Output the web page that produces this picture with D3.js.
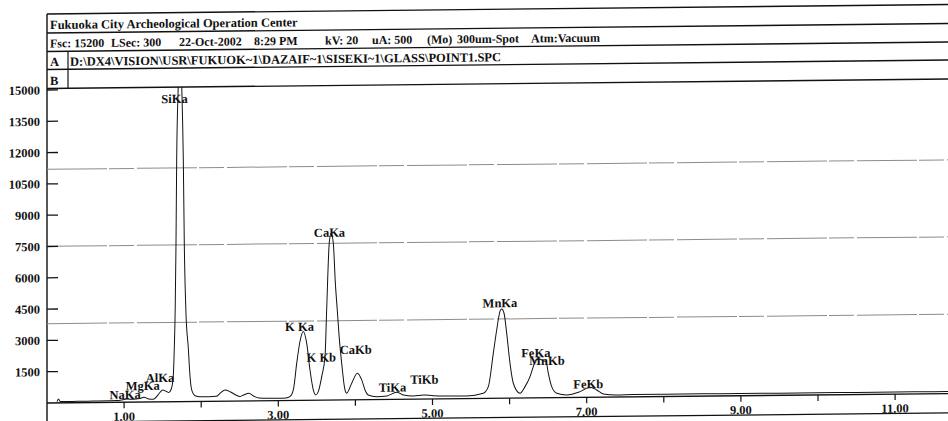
<!DOCTYPE html>
<html>
<head>
<meta charset="utf-8">
<script src="https://cdn.jsdelivr.net/npm/d3@7"></script>
<style>
  body { margin: 0; background: #fff; }
  svg text { font-family: "Liberation Serif", "Times New Roman", serif; font-weight: bold; fill: #111; }
</style>
</head>
<body>
<svg width="948" height="421"></svg>
<script>
// spectrum, keV vs counts
var energy = [0.13, 0.15, 0.17, 0.25, 0.40, 0.60, 0.80, 0.90, 1.00, 1.04, 1.12, 1.20, 1.26, 1.32, 1.38,
  1.44, 1.50, 1.55, 1.58, 1.608, 1.634, 1.651, 1.663, 1.673, 1.682, 1.703, 1.725, 1.747, 1.768, 1.781,
  1.803, 1.833, 1.855, 1.877, 1.92, 1.984, 2.10, 2.20, 2.25, 2.31, 2.38, 2.45, 2.50, 2.55, 2.62,
  2.68, 2.75, 2.90, 3.00, 3.10, 3.15, 3.195, 3.239, 3.281, 3.324, 3.368, 3.411, 3.454, 3.485, 3.519,
  3.563, 3.606, 3.628, 3.661, 3.685, 3.713, 3.74, 3.765, 3.79, 3.822, 3.865, 3.887, 3.952, 4.025, 4.082,
  4.125, 4.167, 4.276, 4.406, 4.536, 4.621, 4.751, 4.881, 5.01, 5.227, 5.444, 5.659, 5.724, 5.789, 5.833,
  5.875, 5.897, 5.927, 5.962, 6.005, 6.048, 6.135, 6.20, 6.265, 6.307, 6.342, 6.394, 6.437, 6.472, 6.502,
  6.546, 6.611, 6.741, 6.913, 7.043, 7.13, 7.215, 7.389, 7.6, 8.0, 8.5, 9.0, 9.5, 10.0, 10.5,
  11.0, 11.5, 12.0];
var counts = [60, 190, 70, 65, 65, 70, 75, 80, 130, 150, 135, 170, 225, 140, 125,
  330, 567, 490, 443, 570, 1040, 2550, 4500, 7500, 11600, 15200, 17500, 15200, 11600, 7500,
  4200, 2550, 1200, 552, 277, 226, 222, 240, 394, 535, 437, 290, 210, 286, 365,
  232, 134, 115, 110, 120, 180, 502, 1784, 2820, 3300, 2740, 1455, 492, 250, 408,
  1127, 2087, 4400, 7536, 8000, 7530, 5600, 4300, 3000, 1761, 476, 320, 795, 1273, 948,
  466, 224, 138, 167, 340, 207, 154, 197, 158, 135, 127, 248, 563, 2166, 3285,
  4163, 4277, 4084, 3121, 1677, 714, 230, 545, 1023, 1502, 1823, 1854, 1771, 1738, 1177,
  531, 211, 125, 277, 483, 350, 154, 100, 110, 115, 110, 110, 105, 105, 100,
  100, 100, 100];

// peak labels: name, energy of label centre, count level of label baseline
var peakNames  = ["NaKa", "MgKa", "AlKa", "SiKa", "K Ka", "K Kb", "CaKa", "CaKb", "TiKa", "TiKb", "MnKa", "FeKa", "MnKb", "FeKb"];
var peakEnergy = [1.012, 1.241, 1.466, 1.654, 3.275, 3.558, 3.664, 4.005, 4.481, 4.894, 5.875, 6.340, 6.485, 7.021];
var peakLevel  = [154, 576, 950, 14312, 3328, 1843, 7825, 2198, 370, 734, 4363, 1949, 1574, 432];

var yTicks = [1500, 3000, 4500, 6000, 7500, 9000, 10500, 12000, 13500, 15000];
var xTicks = [1, 2, 3, 4, 5, 6, 7, 8, 9, 10, 11];
var xLabels = [1, 3, 5, 7, 9, 11];
// faint gray lines across the scan
var scanLines = [11200, 7510, 3800];

var headerRow1 = "Fukuoka City Archeological Operation Center";
var headerRow2 = ["Fsc: 15200", "LSec: 300", "22-Oct-2002", "8:29 PM", "kV: 20", "uA: 500", "(Mo)", "300um-Spot", "Atm:Vacuum"];
var headerRow2X = [50, 111, 179, 254, 325, 372, 427, 457, 531];
var headerPath = "D:\\DX4\\VISION\\USR\\FUKUOK~1\\DAZAIF~1\\SISEKI~1\\GLASS\\POINT1.SPC";

var svg = d3.select("svg"),
    x0 = 47, yBase = 403, plotTop = 88.5;

var x = d3.scaleLinear().domain([0, 12]).range([x0, x0 + 12 * 77.1]);
var y = d3.scaleLinear().domain([0, 15000]).range([yBase, 90]);

// the scan is slightly skewed, right side higher
var g = svg.append("g")
    .attr("transform", "translate(" + x0 + "," + yBase + ") skewY(-0.6) translate(" + (-x0) + "," + (-yBase) + ")");

svg.append("defs").append("clipPath").attr("id", "plot")
  .append("rect").attr("x", x0).attr("y", plotTop).attr("width", 1000).attr("height", yBase - plotTop + 20);

// header box
[14, 33, 51.5, 69.5, plotTop].forEach(function(v) {
  g.append("line").attr("x1", x0).attr("x2", 1000).attr("y1", v).attr("y2", v)
    .attr("stroke", "#111").attr("stroke-width", 1.4);
});
g.append("line").attr("x1", 68).attr("x2", 68).attr("y1", 51.5).attr("y2", plotTop)
  .attr("stroke", "#111").attr("stroke-width", 1.2);
g.append("line").attr("x1", x0).attr("x2", x0).attr("y1", 14).attr("y2", 440)
  .attr("stroke", "#111").attr("stroke-width", 1.4);

g.append("text").attr("x", 50).attr("y", 29).style("font-size", "12.5px").text(headerRow1);
g.selectAll(".h2").data(headerRow2).enter().append("text")
  .attr("x", function(d, i) { return headerRow2X[i]; }).attr("y", 47.5)
  .style("font-size", "12px").text(function(d) { return d; });
g.append("text").attr("x", 50).attr("y", 66).style("font-size", "12.5px").text("A");
g.append("text").attr("x", 70).attr("y", 66).style("font-size", "12.5px").text(headerPath);
g.append("text").attr("x", 50).attr("y", 85).style("font-size", "12.5px").text("B");

// gray scan lines
g.selectAll(".scan").data(scanLines).enter().append("line")
  .attr("x1", x0).attr("x2", 1000)
  .attr("y1", function(d) { return y(d); }).attr("y2", function(d) { return y(d); })
  .attr("stroke", "#8c8c8c").attr("stroke-width", 1).attr("stroke-dasharray", "60,2,25,3");

// y axis ticks + labels
g.selectAll(".yt").data(yTicks).enter().append("line")
  .attr("x1", x0).attr("x2", x0 + 11)
  .attr("y1", function(d) { return y(d); }).attr("y2", function(d) { return y(d); })
  .attr("stroke", "#111").attr("stroke-width", 1.3);
g.selectAll(".yl").data(yTicks).enter().append("text")
  .attr("x", 40).attr("y", function(d) { return y(d); }).attr("dy", "0.36em")
  .attr("text-anchor", "end").style("font-size", "12.5px")
  .text(function(d) { return d; });

// x axis
g.append("line").attr("x1", x0).attr("x2", 1000).attr("y1", yBase).attr("y2", yBase)
  .attr("stroke", "#111").attr("stroke-width", 1.3);
g.append("line").attr("x1", x0).attr("x2", 1000).attr("y1", 422.3).attr("y2", 422.3)
  .attr("stroke", "#111").attr("stroke-width", 1.3);
g.selectAll(".xt").data(xTicks).enter().append("line")
  .attr("x1", function(d) { return x(d); }).attr("x2", function(d) { return x(d); })
  .attr("y1", yBase).attr("y2", yBase + 6)
  .attr("stroke", "#111").attr("stroke-width", 1.2);
g.selectAll(".xl").data(xLabels).enter().append("text")
  .attr("x", function(d) { return x(d); }).attr("y", 421.5)
  .attr("text-anchor", "middle").style("font-size", "12.5px")
  .text(function(d) { return d.toFixed(2); });

// spectrum
var line = d3.line()
    .x(function(d, i) { return x(energy[i]); })
    .y(function(d) { return y(d); })
    .curve(d3.curveMonotoneX);

g.append("path")
    .datum(counts)
    .attr("clip-path", "url(#plot)")
    .attr("fill", "none")
    .attr("stroke", "#111")
    .attr("stroke-width", 1)
    .attr("stroke-linejoin", "round")
    .attr("d", line);

// peak labels
g.selectAll(".pk").data(peakNames).enter().append("text")
  .attr("x", function(d, i) { return x(peakEnergy[i]); })
  .attr("y", function(d, i) { return y(peakLevel[i]); })
  .attr("text-anchor", "middle").style("font-size", "12.5px")
  .text(function(d) { return d; });
</script>
</body>
</html>
